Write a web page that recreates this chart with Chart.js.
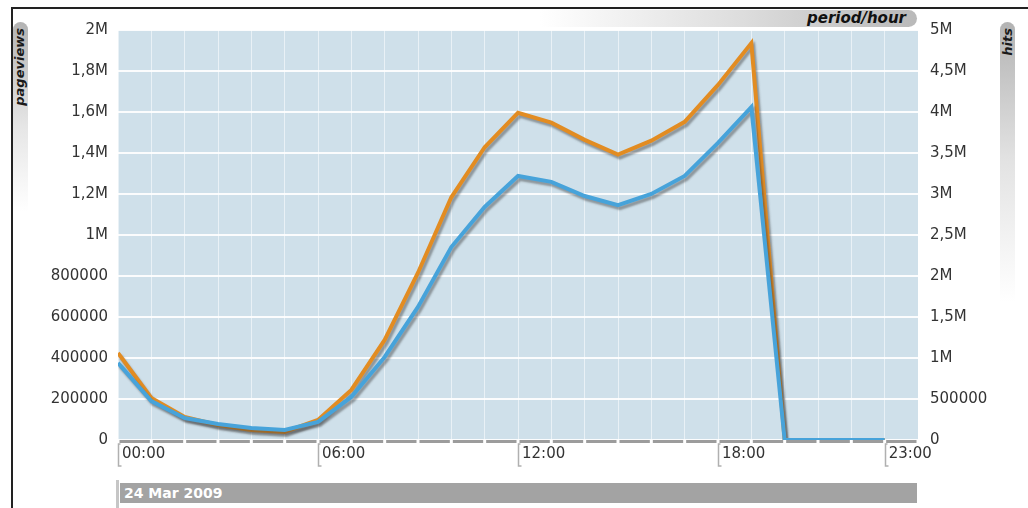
<!DOCTYPE html>
<html>
<head>
<meta charset="utf-8">
<script src="https://cdn.jsdelivr.net/npm/chart.js@4.4.1/dist/chart.umd.min.js"></script>
<style>
    html, body { margin: 0; padding: 0; background: #fff; }
    #wrap { position: relative; width: 1028px; height: 508px; overflow: hidden; font-family: 'DejaVu Sans', sans-serif; }
    #chart { position: absolute; left: 0; top: 0; }
    .frame { position: absolute; left: 11px; top: 7px; right: -5px; bottom: -5px; border-top: 2px solid #222; border-left: 2px solid #222; }
    .pill-v { position: absolute; width: 15px; border-radius: 8px 8px 0 0; }
    .vlabel { position: absolute; transform-origin: 0 0; transform: rotate(-90deg); white-space: nowrap; text-align: right;
        font-weight: bold; font-style: italic; font-size: 13px; line-height: 15px; color: #1a1a1a; }
    .pill-top { position: absolute; left: 540px; top: 10px; width: 377px; height: 17px; border-radius: 0 9px 9px 0;
        background: linear-gradient(to right, rgba(255,255,255,0), #dcdcdc 55%, #b9b9b9);
        text-align: right; box-sizing: border-box; padding-right: 11px;
        font-weight: bold; font-style: italic; font-size: 15px; line-height: 17px; color: #111; }
    .datebar { position: absolute; left: 120px; top: 483px; width: 797px; height: 20px; background: #a3a3a3;
        color: #fff; font-weight: bold; font-size: 14px; line-height: 20px; padding-left: 4px; box-sizing: border-box; }
    .datemark { position: absolute; left: 116px; top: 480px; width: 3px; height: 28px; background: #c6c6c6; }
</style>
</head>
<body>
<div id="wrap">
    <div class="frame"></div>
    <div class="pill-v" style="left:13px;top:22px;height:190px;background:linear-gradient(to bottom,#b3b3b3,#e6e6e6 55%,rgba(255,255,255,0));"></div>
    <div class="vlabel" style="left:12px;top:128px;width:100px;">pageviews</div>
    <div class="pill-v" style="left:1000px;top:22px;height:280px;background:linear-gradient(to bottom,#b3b3b3,#e3e3e3 50%,rgba(255,255,255,0));"></div>
    <div class="vlabel" style="left:1000px;top:128px;width:100px;">hits</div>
    <div class="pill-top">period/hour</div>
    <div class="datemark"></div>
    <div class="datebar">24 Mar 2009</div>
    <canvas id="chart" width="1028" height="508"></canvas>
</div>
<script>
// hours of the day
const hours = [0, 1, 2, 3, 4, 5, 6, 7, 8, 9, 10, 11, 12, 13, 14, 15, 16, 17, 18, 19, 20, 21, 22, 23];
const labelledHours = [0, 6, 12, 18, 23];

// pageviews (left axis)
const pageviews = [376000, 190000, 107000, 78000, 59000, 49000, 88000, 210000, 405000, 649000, 941000, 1137000,
    1288000, 1259000, 1190000, 1146000, 1200000, 1288000, 1449000, 1624000, 0, 0, 0, 0];

// hits (right axis)
const hits = [1061000, 512000, 280000, 183000, 122000, 98000, 244000, 610000, 1220000, 2040000, 2960000, 3570000,
    3990000, 3870000, 3660000, 3480000, 3650000, 3880000, 4330000, 4840000, 0, 0, 0, 0];

const LEFT_W = 118, RIGHT_W = 110, BOTTOM_H = 68, TOP_PAD = 30;

const fmtNum = v => {
    if (v >= 1000000) return String(v / 1000000).replace('.', ',') + 'M';
    return String(v);
};
const fmtHour = h => String(h).padStart(2, '0') + ':00';

const plotBg = {
    id: 'plotBg',
    beforeDraw(chart) {
        const { ctx, chartArea: a } = chart;
        ctx.save();
        ctx.fillStyle = '#cfe0ea';
        ctx.fillRect(a.left, a.top, a.right - a.left, a.bottom - a.top);
        ctx.restore();
    },
};

const lineShadow = {
    id: 'lineShadow',
    beforeDatasetDraw(chart) {
        const ctx = chart.ctx;
        ctx.save();
        ctx.shadowColor = 'rgba(60,60,60,0.45)';
        ctx.shadowOffsetX = 2;
        ctx.shadowOffsetY = 3;
        ctx.shadowBlur = 2;
    },
    afterDatasetDraw(chart) {
        chart.ctx.restore();
    },
};

// gray base under the plot with a gap at each hour, and brackets for labelled hours
const hourAxis = {
    id: 'hourAxis',
    afterDraw(chart) {
        const { ctx, chartArea: a } = chart;
        const x = chart.scales.x;
        ctx.save();
        ctx.fillStyle = '#9c9c9c';
        for (let h = 0; h < 24; h++) {
            const x0 = x.getPixelForValue(h) + 1.5;
            const x1 = x.getPixelForValue(h + 1) - 1.5;
            ctx.fillRect(x0, a.bottom, x1 - x0, 3);
        }
        ctx.strokeStyle = '#b0b0b0';
        ctx.lineWidth = 1.5;
        labelledHours.forEach(h => {
            const px = Math.round(x.getPixelForValue(h)) + 0.5;
            ctx.beginPath();
            ctx.moveTo(px + 2, a.bottom + 4);
            ctx.lineTo(px, a.bottom + 4);
            ctx.lineTo(px, a.bottom + 26);
            ctx.lineTo(px + 3, a.bottom + 26);
            ctx.stroke();
        });
        ctx.restore();
    },
};

Chart.defaults.font.family = "'DejaVu Sans', sans-serif";
Chart.defaults.font.size = 15;
Chart.defaults.color = '#333';

new Chart(document.getElementById('chart'), {
    type: 'line',
    data: {
        datasets: [
            {
                label: 'pageviews',
                data: hours.map((h, i) => ({ x: h, y: pageviews[i] })),
                yAxisID: 'y',
                borderColor: '#47a3da',
                borderWidth: 4,
                pointRadius: 0,
                tension: 0,
            },
            {
                label: 'hits',
                data: hours.map((h, i) => ({ x: h, y: hits[i] })),
                yAxisID: 'y1',
                borderColor: '#e28c22',
                borderWidth: 4,
                pointRadius: 0,
                tension: 0,
            },
        ],
    },
    options: {
        responsive: false,
        animation: false,
        layout: { padding: { top: TOP_PAD, left: 0, right: 0, bottom: 0 } },
        plugins: { legend: { display: false }, tooltip: { enabled: false } },
        scales: {
            x: {
                type: 'linear',
                min: 0,
                max: 24,
                afterBuildTicks: scale => {
                    scale.ticks = Array.from({ length: 25 }, (_, i) => ({ value: i }));
                },
                afterFit: scale => { scale.height = BOTTOM_H; },
                ticks: {
                    autoSkip: false,
                    maxRotation: 0,
                    align: 'start',
                    labelOffset: 4,
                    padding: 5,
                    color: '#333',
                    callback: v => (labelledHours.includes(v) ? fmtHour(v) : ''),
                },
                grid: { color: 'rgba(255,255,255,0.55)', lineWidth: 1, drawTicks: false },
                border: { display: false },
            },
            y: {
                position: 'left',
                min: 0,
                max: 2000000,
                afterFit: scale => { scale.width = LEFT_W; },
                ticks: { stepSize: 200000, padding: 10, color: '#333', callback: v => fmtNum(v) },
                grid: { color: 'rgba(255,255,255,0.9)', lineWidth: 2, drawTicks: false },
                border: { display: false },
            },
            y1: {
                position: 'right',
                min: 0,
                max: 5000000,
                afterFit: scale => { scale.width = RIGHT_W; },
                ticks: { stepSize: 500000, padding: 12, color: '#333', callback: v => fmtNum(v) },
                grid: { drawOnChartArea: false, drawTicks: false },
                border: { display: false },
            },
        },
    },
    plugins: [plotBg, lineShadow, hourAxis],
});
</script>
</body>
</html>
